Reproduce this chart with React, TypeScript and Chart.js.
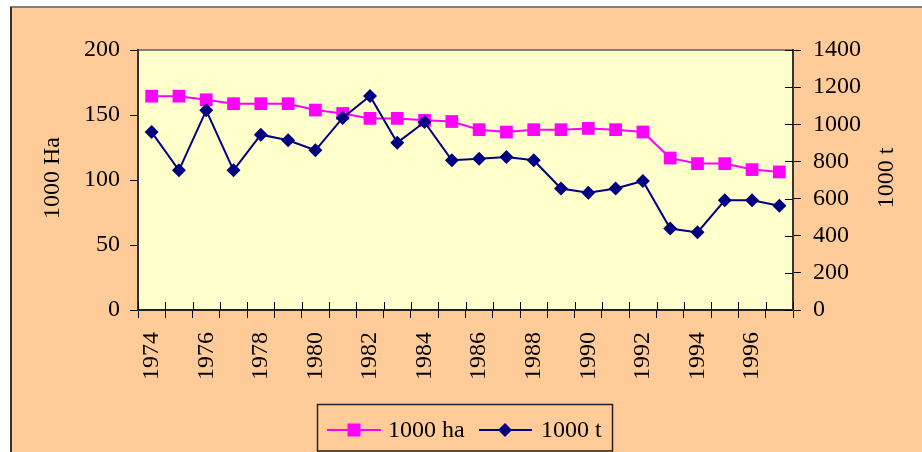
import React, { useEffect, useRef } from "react";
import { Chart, registerables } from "chart.js";

Chart.register(...registerables);

const years: string[] = [
  "1974", "1975", "1976", "1977", "1978", "1979", "1980", "1981", "1982", "1983", "1984", "1985",
  "1986", "1987", "1988", "1989", "1990", "1991", "1992", "1993", "1994", "1995", "1996", "1997",
];
const haValues: number[] = [
  164.5, 164.5, 161.7, 158.7, 158.7, 158.7, 153.8, 151.2, 147.4, 147.4, 145.9, 145.0,
  138.7, 136.9, 138.7, 138.7, 139.7, 138.7, 136.9, 116.9, 112.6, 112.6, 108.0, 106.2,
];
const tValues: number[] = [
  958, 752, 1075, 752, 944, 914, 860, 1034, 1152, 901, 1012, 806,
  815, 824, 806, 654, 631, 654, 695, 439, 418, 591, 591, 561,
];
const leftTitle = "1000 Ha";
const rightTitle = "1000 t";
const haLabel = "1000 ha";
const tLabel = "1000 t";

const FONT = "'Liberation Serif', 'Times New Roman', serif";
const PINK = "#FF00FF";
const NAVY = "#000080";

const decorPlugin = {
  id: "decor",
  beforeDraw(chart: any) {
    const ctx = chart.ctx;
    const { left, right, top, bottom } = chart.chartArea;
    ctx.save();
    ctx.fillStyle = "#FFFFFF";
    ctx.fillRect(0, 0, chart.width, chart.height);
    ctx.fillStyle = "#FFCC99";
    ctx.fillRect(10, 7, chart.width - 10, chart.height - 7);
    ctx.strokeStyle = "#808080";
    ctx.lineWidth = 2;
    ctx.beginPath();
    ctx.moveTo(10, 7);
    ctx.lineTo(chart.width, 7);
    ctx.stroke();
    ctx.strokeStyle = "#333333";
    ctx.beginPath();
    ctx.moveTo(11, 7);
    ctx.lineTo(11, chart.height);
    ctx.stroke();
    ctx.fillStyle = "#FFFFCC";
    ctx.fillRect(left, top, right - left, bottom - top);
    ctx.strokeStyle = "#808080";
    ctx.lineWidth = 2;
    ctx.beginPath();
    ctx.moveTo(left, top);
    ctx.lineTo(right, top);
    ctx.stroke();
    ctx.restore();
  },
  afterDraw(chart: any) {
    const ctx = chart.ctx;
    const { left, right, top, bottom } = chart.chartArea;
    ctx.save();
    // inner tick marks
    ctx.strokeStyle = "#000";
    ctx.lineWidth = 1;
    const n = years.length;
    const step = (right - left) / n;
    ctx.beginPath();
    for (let i = 0; i <= n; i++) {
      const x = Math.round(left + i * step) + 0.5;
      ctx.moveTo(x, bottom);
      ctx.lineTo(x, bottom - 8);
    }
    const y1 = chart.scales.y1;
    y1.ticks.forEach((t: any) => {
      const y = Math.round(y1.getPixelForValue(t.value)) + 0.5;
      ctx.moveTo(right, y);
      ctx.lineTo(right - 8, y);
    });
    ctx.stroke();

    // axis titles
    ctx.fillStyle = "#000";
    ctx.font = `24px ${FONT}`;
    ctx.textAlign = "center";
    ctx.textBaseline = "middle";
    const cy = 178;
    ctx.save();
    ctx.translate(53, cy);
    ctx.rotate(-Math.PI / 2);
    ctx.fillText(leftTitle, 0, 0);
    ctx.restore();
    ctx.save();
    ctx.translate(887, cy);
    ctx.rotate(-Math.PI / 2);
    ctx.fillText(rightTitle, 0, 0);
    ctx.restore();

    // legend
    ctx.strokeStyle = "#222";
    ctx.lineWidth = 1.5;
    ctx.strokeRect(317.5, 404.5, 295, 46.5);
    const ly = 430;
    ctx.lineWidth = 2;
    ctx.strokeStyle = PINK;
    ctx.beginPath();
    ctx.moveTo(327, ly);
    ctx.lineTo(381, ly);
    ctx.stroke();
    ctx.fillStyle = PINK;
    ctx.fillRect(354 - 6.5, ly - 6.5, 13, 13);
    ctx.strokeStyle = NAVY;
    ctx.beginPath();
    ctx.moveTo(479, ly);
    ctx.lineTo(532, ly);
    ctx.stroke();
    ctx.fillStyle = NAVY;
    ctx.beginPath();
    ctx.moveTo(505, ly - 7);
    ctx.lineTo(512, ly);
    ctx.lineTo(505, ly + 7);
    ctx.lineTo(498, ly);
    ctx.closePath();
    ctx.fill();
    ctx.fillStyle = "#000";
    ctx.textAlign = "left";
    ctx.fillText(haLabel, 388, ly + 1);
    ctx.fillText(tLabel, 541, ly + 1);
    ctx.restore();
  },
};

export default function App() {
  const ref = useRef<HTMLCanvasElement | null>(null);
  useEffect(() => {
    document.body.style.margin = "0";
    const canvas = ref.current;
    if (!canvas) return;
    const tickFont = { family: FONT, size: 24 };
    const chart = new Chart(canvas, {
      type: "line",
      data: {
        labels: years,
        datasets: [
          {
            label: haLabel,
            data: haValues,
            yAxisID: "y",
            borderColor: PINK,
            backgroundColor: PINK,
            borderWidth: 2,
            pointStyle: "rect",
            pointRadius: 9,
            pointHoverRadius: 9,
            pointBorderWidth: 0,
            tension: 0,
            order: 2,
          },
          {
            label: tLabel,
            data: tValues,
            yAxisID: "y1",
            borderColor: NAVY,
            backgroundColor: NAVY,
            borderWidth: 2,
            pointStyle: "rectRot",
            pointRadius: 7,
            pointHoverRadius: 7,
            pointBorderWidth: 0,
            tension: 0,
            order: 1,
          },
        ],
      },
      options: {
        responsive: false,
        animation: false,
        layout: { padding: { left: 0, right: 0, top: 50, bottom: 0 } },
        plugins: {
          legend: { display: false },
          tooltip: { enabled: false },
        },
        scales: {
          x: {
            offset: true,
            grid: {
              offset: true,
              drawOnChartArea: false,
              drawTicks: true,
              tickLength: 8,
              color: "#000",
            },
            border: { display: true, color: "#222", width: 2 },
            ticks: {
              autoSkip: false,
              maxRotation: 90,
              minRotation: 90,
              padding: 14,
              color: "#000",
              font: tickFont,
              callback: (_v: any, i: number) => (i % 2 === 0 ? years[i] : ""),
            },
            afterFit: (s: any) => {
              s.height = 142;
            },
          },
          y: {
            position: "left",
            min: 0,
            max: 200,
            grid: { drawOnChartArea: false, tickLength: 8, color: "#000" },
            border: { display: true, color: "#333", width: 2 },
            ticks: {
              stepSize: 50,
              padding: 10,
              color: "#000",
              font: tickFont,
              callback: (v: any) => String(v),
            },
            afterFit: (s: any) => {
              s.width = 138;
            },
          },
          y1: {
            position: "right",
            min: 0,
            max: 1400,
            grid: { drawOnChartArea: false, tickLength: 8, color: "#000" },
            border: { display: true, color: "#333", width: 2 },
            ticks: {
              stepSize: 200,
              padding: 12,
              color: "#000",
              font: tickFont,
              callback: (v: any) => String(v),
            },
            afterFit: (s: any) => {
              s.width = 129;
            },
          },
        },
      },
      plugins: [decorPlugin],
    });
    return () => chart.destroy();
  }, []);
  return (
    <div style={{ position: "fixed", left: 0, top: 0, width: 922, height: 452, background: "#fff" }}>
      <canvas ref={ref} width={922} height={452} style={{ display: "block", width: 922, height: 452 }} />
    </div>
  );
}
